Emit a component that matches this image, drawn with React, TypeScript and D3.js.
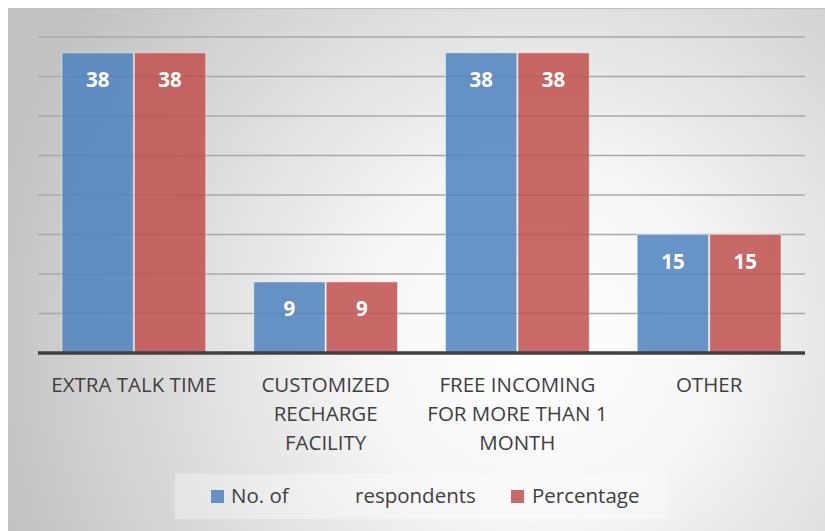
import React from "react";
import * as d3 from "d3";

const categories: string[][] = [
  ["EXTRA TALK TIME"],
  ["CUSTOMIZED", "RECHARGE", "FACILITY"],
  ["FREE INCOMING", "FOR MORE THAN 1", "MONTH"],
  ["OTHER"],
];
const categoryKeys = ["extra", "customized", "free", "other"];
const seriesNames = ["No. of respondents", "Percentage"];
const respondents = [38, 9, 38, 15];
const percentage = [38, 9, 38, 15];
const seriesValues = [respondents, percentage];
const yTicks = [0, 5, 10, 15, 20, 25, 30, 35, 40];

const W = 825;
const H = 531;
const plot = { left: 38, right: 805, top: 37, bottom: 353 };
const colors = ["rgb(79,129,189)", "rgb(192,80,77)"];
const textColor = "#404040";
const font = "'Open Sans', 'DejaVu Sans', sans-serif";

export default function App() {
  const x0 = d3
    .scaleBand<string>()
    .domain(categoryKeys)
    .range([plot.left, plot.right])
    .paddingInner(0.25)
    .paddingOuter(0.125);
  const x1 = d3
    .scaleBand<number>()
    .domain([0, 1])
    .range([0, x0.bandwidth()])
    .paddingInner(0.015);
  const y = d3.scaleLinear().domain([0, 40]).range([plot.bottom, plot.top]);

  return (
    <svg
      width={W}
      height={H}
      style={{ position: "absolute", left: 0, top: 0 }}
      fontFamily={font}
    >
      <defs>
        <radialGradient
          id="bg"
          gradientUnits="userSpaceOnUse"
          cx={540}
          cy={340}
          r={560}
        >
          <stop offset="0" stopColor="#ffffff" />
          <stop offset="0.3" stopColor="#f7f7f7" />
          <stop offset="1" stopColor="#c2c2c2" />
        </radialGradient>
      </defs>
      <rect x={0} y={0} width={W} height={H} fill="#ffffff" />
      <rect x={8} y={8} width={W - 8} height={H - 8} fill="url(#bg)" />
      <line x1={8} x2={W} y1={8.5} y2={8.5} stroke="#c0c0c0" strokeWidth={1} />

      {/* horizontal gridlines */}
      {yTicks
        .filter((t) => t > 0)
        .map((t) => (
          <line
            key={t}
            x1={plot.left}
            x2={plot.right}
            y1={y(t)}
            y2={y(t)}
            stroke="#a8a8a8"
            strokeWidth={1.3}
          />
        ))}

      {/* bars */}
      {categoryKeys.map((key, ci) => (
        <g key={key} transform={`translate(${x0(key)},0)`}>
          {seriesValues.map((vals, si) => {
            const bx = x1(si) as number;
            const bw = x1.bandwidth();
            const top = y(vals[ci]);
            return (
              <g key={si}>
                <rect
                  x={bx}
                  y={top}
                  width={bw}
                  height={plot.bottom - top}
                  fill={colors[si]}
                  fillOpacity={0.85}
                  stroke="#ffffff"
                  strokeOpacity={0.5}
                  strokeWidth={1}
                />
                <text
                  x={bx + bw / 2}
                  y={top + 34}
                  textAnchor="middle"
                  fill="#ffffff"
                  fontWeight="bold"
                  fontSize={20.5}
                >
                  {vals[ci]}
                </text>
              </g>
            );
          })}
        </g>
      ))}

      {/* category axis */}
      <line
        x1={plot.left}
        x2={plot.right}
        y1={plot.bottom}
        y2={plot.bottom}
        stroke="#404040"
        strokeWidth={3.5}
      />
      {categoryKeys.map((key, ci) => (
        <text
          key={key}
          x={(x0(key) as number) + x0.bandwidth() / 2}
          textAnchor="middle"
          fill={textColor}
          fontSize={20.5}
        >
          {categories[ci].map((line, li) => (
            <tspan key={li} x={(x0(key) as number) + x0.bandwidth() / 2} y={392 + li * 29}>
              {line}
            </tspan>
          ))}
        </text>
      ))}

      {/* legend */}
      <rect x={175} y={474} width={492} height={45} fill="#ffffff" fillOpacity={0.35} />
      <rect x={211} y={490} width={13} height={13} fill={colors[0]} fillOpacity={0.85} />
      <text x={231} y={503} fill={textColor} fontSize={20.5}>
        <tspan x={231}>No. of</tspan>
        <tspan x={355}>respondents</tspan>
      </text>
      <rect x={511} y={490} width={13} height={13} fill={colors[1]} fillOpacity={0.85} />
      <text x={532} y={503} fill={textColor} fontSize={20.5}>
        {seriesNames[1]}
      </text>
    </svg>
  );
}
